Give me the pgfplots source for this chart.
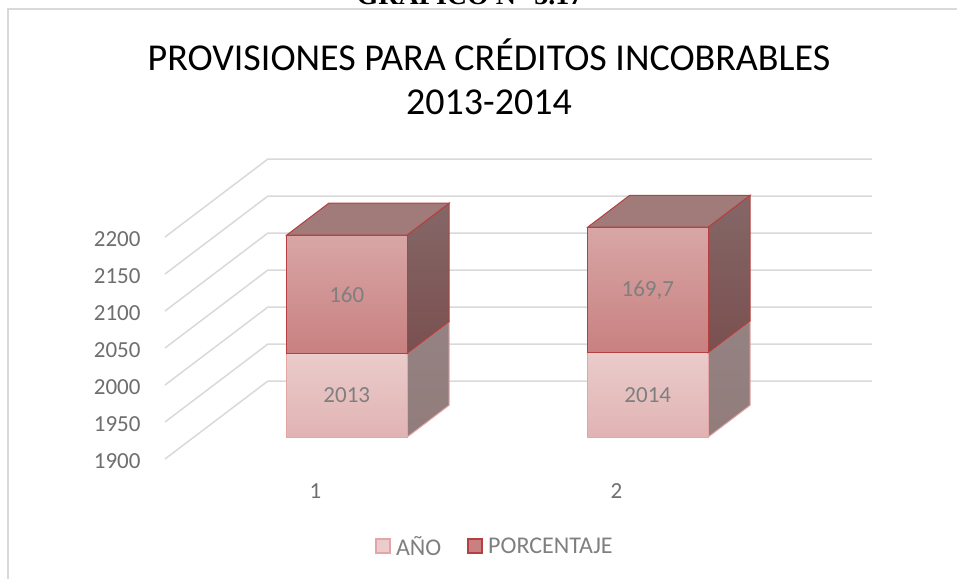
\documentclass[border=0pt]{standalone}
\usepackage{fontspec}
\setmainfont{Carlito}
\newfontfamily\serifbf{Liberation Serif}
\usepackage{pgfplots}
\pgfplotsset{compat=1.18}
\definecolor{gridc}{HTML}{D9D9D9}
\definecolor{labgray}{HTML}{7F7F7F}
\definecolor{tickgray}{HTML}{6E6E6E}
\definecolor{anoFT}{HTML}{EBCBCB}
\definecolor{anoFB}{HTML}{E1B3B3}
\definecolor{anoST}{HTML}{958282}
\definecolor{anoSB}{HTML}{927C7C}
\definecolor{anoE}{HTML}{E3A5A5}
\definecolor{porFT}{HTML}{D8A6A6}
\definecolor{porFB}{HTML}{C98080}
\definecolor{porST}{HTML}{856767}
\definecolor{porSB}{HTML}{7A5050}
\definecolor{porTop}{HTML}{A07B79}
\definecolor{porE}{HTML}{B5403F}

% depth offsets (data units): front face of bars and back face of bars
\def\dXf{0.104}\def\dVf{29.5}
\def\dXb{0.244}\def\dVb{72.7}

% #1 center, #2 lower, #3 upper, #4 label, #5 front top, #6 front bottom, #7 side top, #8 side bottom, #9 edge
\newcommand{\cubeseg}[9]{%
  \pgfmathsetmacro\xl{#1-0.2+\dXf}%
  \pgfmathsetmacro\xr{#1+0.2+\dXf}%
  \pgfmathsetmacro\xrb{#1+0.2+\dXb}%
  \pgfmathsetmacro\xc{#1+\dXf}%
  \pgfmathsetmacro\yl{#2+\dVf}%
  \pgfmathsetmacro\yu{#3+\dVf}%
  \pgfmathsetmacro\ylb{#2+\dVb}%
  \pgfmathsetmacro\yub{#3+\dVb}%
  \pgfmathsetmacro\ym{(#2+#3)/2+\dVf}%
  \addplot[forget plot, draw=#9, line width=1pt, top color=#7, bottom color=#8]
    coordinates {(\xr,\yl) (\xrb,\ylb) (\xrb,\yub) (\xr,\yu)} -- cycle;
  \addplot[forget plot, draw=#9, line width=1pt, top color=#5, bottom color=#6]
    coordinates {(\xl,\yl) (\xr,\yl) (\xr,\yu) (\xl,\yu)} -- cycle;
  \edef\tmpnode{\noexpand\node[font=\noexpand\fontsize{23}{26}\noexpand\selectfont, text=labgray] at (axis cs:\xc,\ym) {#4};}%
  \tmpnode
}
% top face: #1 center, #2 upper, #3 colour, #4 edge
\newcommand{\cubetop}[4]{%
  \pgfmathsetmacro\xl{#1-0.2+\dXf}%
  \pgfmathsetmacro\xr{#1+0.2+\dXf}%
  \pgfmathsetmacro\xlb{#1-0.2+\dXb}%
  \pgfmathsetmacro\xrb{#1+0.2+\dXb}%
  \pgfmathsetmacro\yu{#2+\dVf}%
  \pgfmathsetmacro\yub{#2+\dVb}%
  \addplot[forget plot, draw=#4, line width=1pt, fill=#3]
    coordinates {(\xl,\yu) (\xr,\yu) (\xrb,\yub) (\xlb,\yub)} -- cycle;
}

\begin{document}
\begin{tikzpicture}[x=1pt,y=1pt]
\useasboundingbox (0,0) rectangle (957,-578);
\draw[gridc, line width=2pt] (8,-590) -- (8,-9) -- (970,-9);
\node[font=\serifbf\bfseries\fontsize{28}{30}\selectfont, anchor=base] at (470,-5) {GRAFICO N° 3.17};
\node[font=\fontsize{38}{44}\selectfont, align=center] at (489,-77)
  {PROVISIONES PARA CRÉDITOS INCOBRABLES\\2013-2014};
\begin{axis}[
  at={(165pt,-459pt)}, anchor=south west,
  scale only axis, width=602pt, height=222pt,
  xmin=0.5, xmax=2.5, ymin=1900, ymax=2200,
  clip=false,
  axis line style={draw=none},
  tick style={draw=none},
  xtick={1,2}, ytick={1900,1950,...,2200},
  /pgf/number format/assume math mode=true,
  /pgf/number format/1000 sep={},
  ticklabel style={font=\fontsize{23}{26}\selectfont, text=tickgray},
  yticklabel style={xshift=-21pt, yshift=-2pt},
  xticklabel style={yshift=-21pt},
  legend style={at={(0.548,-0.396)}, anchor=center, draw=none, fill=none,
    legend columns=2, font=\fontsize{24}{27}\selectfont, text=labgray,
    /tikz/every even column/.append style={column sep=24pt}},
  legend image code/.code={\draw[#1, line width=1.4pt] (0pt,-6pt) rectangle (14pt,8pt); \path (18pt,0pt);},
]
% back wall grid and floor diagonals
\addplot[forget plot, gridc, line width=1.5pt] coordinates {(0.5,1900) (0.842,2005.4) (2.849,2005.4)};
\addplot[forget plot, gridc, line width=1.5pt] coordinates {(0.5,1950) (0.842,2055.4) (2.849,2055.4)};
\addplot[forget plot, gridc, line width=1.5pt] coordinates {(0.5,2000) (0.842,2105.4) (2.849,2105.4)};
\addplot[forget plot, gridc, line width=1.5pt] coordinates {(0.5,2050) (0.842,2155.4) (2.849,2155.4)};
\addplot[forget plot, gridc, line width=1.5pt] coordinates {(0.5,2100) (0.842,2205.4) (2.849,2205.4)};
\addplot[forget plot, gridc, line width=1.5pt] coordinates {(0.5,2150) (0.842,2255.4) (2.849,2255.4)};
\addplot[forget plot, gridc, line width=1.5pt] coordinates {(0.5,2200) (0.842,2305.4) (2.849,2305.4)};
% bar 1: AÑO 2013, PORCENTAJE 160
\cubeseg{1}{1900}{2013}{2013}{anoFT}{anoFB}{anoST}{anoSB}{anoE}
\cubeseg{1}{2013}{2013+160}{160}{porFT}{porFB}{porST}{porSB}{porE}
\cubetop{1}{2013+160}{porTop}{porE}
% bar 2: AÑO 2014, PORCENTAJE 169,7
\cubeseg{2}{1900}{2014}{2014}{anoFT}{anoFB}{anoST}{anoSB}{anoE}
\cubeseg{2}{2014}{2014+169.7}{169,7}{porFT}{porFB}{porST}{porSB}{porE}
\cubetop{2}{2014+169.7}{porTop}{porE}
\addlegendimage{fill=anoFT, draw=anoE}
\addlegendentry{AÑO}
\addlegendimage{fill=porFB, draw=porE}
\addlegendentry{PORCENTAJE}
\end{axis}
\end{tikzpicture}
\end{document}
